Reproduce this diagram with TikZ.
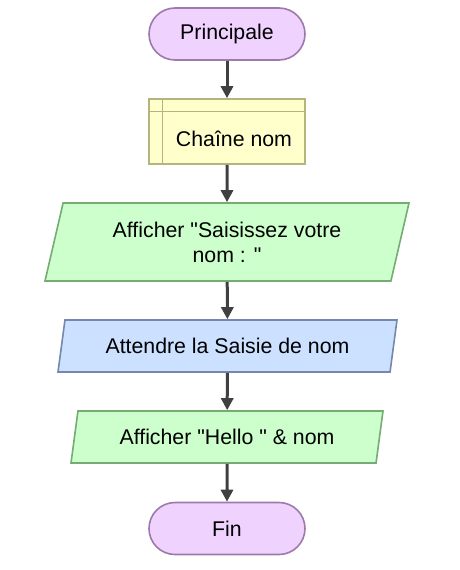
\documentclass[tikz,border=0pt]{standalone}
\usepackage{fontspec}
\setmainfont{Liberation Sans}[Ligatures=TeXOff]
\usetikzlibrary{arrows.meta,shapes.geometric}
\definecolor{termfill}{HTML}{F0D2FF}
\definecolor{termline}{HTML}{9C7AAC}
\definecolor{dclfill}{HTML}{FFFFCC}
\definecolor{dclline}{HTML}{B4B47C}
\definecolor{outfill}{HTML}{CCFFCC}
\definecolor{outline}{HTML}{74AC74}
\definecolor{infill}{HTML}{CCE0FF}
\definecolor{inline}{HTML}{7488AC}
\definecolor{flowline}{HTML}{404040}
\begin{document}
\begin{tikzpicture}[x=1pt,y=-1pt,
  font=\fontsize{21.3}{25}\selectfont,
  terminal/.style={draw=termline,fill=termfill,line width=1.6pt,rounded corners=26pt,
    minimum width=156pt,minimum height=52pt,inner sep=0pt},
  dclbox/.style={draw=dclline,fill=dclfill,line width=1.6pt,minimum width=156pt,
    minimum height=65pt,inner sep=0pt},
  iobox/.style={trapezium,trapezium left angle=66,trapezium right angle=114,
    trapezium stretches body,line width=1.6pt,inner sep=0pt,align=center},
  outbox/.style={iobox,draw=outline,fill=outfill},
  inbox/.style={iobox,draw=inline,fill=infill},
  flow/.style={draw=flowline,line width=3pt,-{Triangle[width=12pt,length=12pt]}}]
\useasboundingbox (0,0) rectangle (460,570);
\node[terminal] (main) at (227,34) {Principale};
\node[dclbox] (dcl) at (227,131.5) {};
\draw[dclline,line width=1.4pt] ([xshift=14pt]dcl.north west) -- ([xshift=14pt]dcl.south west);
\draw[dclline,line width=1.4pt] ([yshift=-13pt]dcl.north west) -- ([yshift=-13pt]dcl.north east);
\node (dcltext) at (234,139) {Chaîne nom};
\node[outbox,minimum width=364pt,minimum height=78pt] (ask) at (227,242) {Afficher "Saisissez votre\\nom : "};
\node[inbox,minimum width=339pt,minimum height=52pt] (read) at (227.5,346) {Attendre la Saisie de nom};
\node[outbox,minimum width=312pt,minimum height=52pt] (hello) at (227,437) {Afficher "Hello " \& nom};
\node[terminal] (fin) at (227,528.5) {Fin};
\draw[flow] (main) -- (dcl);
\draw[flow] (dcl) -- (ask);
\draw[flow] (ask) -- (read);
\draw[flow] (read) -- (hello);
\draw[flow] (hello) -- (fin);
\end{tikzpicture}
\end{document}
